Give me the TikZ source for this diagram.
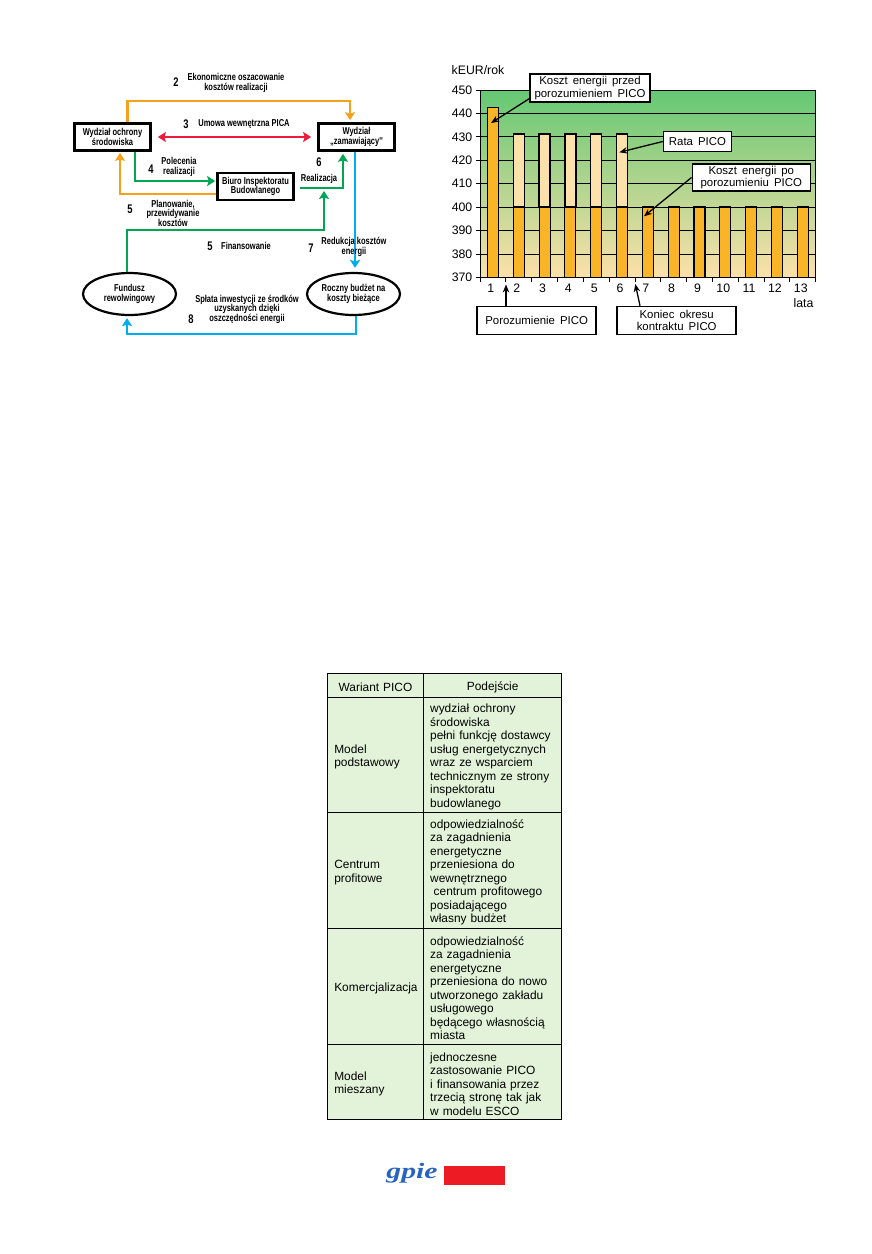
\documentclass[tikz,border=0pt]{standalone}
\usepackage{fontspec}
\setmainfont{Liberation Sans}
\newfontfamily\condfont[FakeStretch=0.75]{Liberation Sans}
\newfontfamily\logofont[FakeStretch=1.35]{Liberation Serif}
\usetikzlibrary{shapes.geometric, positioning, arrows.meta, calc}

\definecolor{flowOrange}{RGB}{247,160,30}
\definecolor{flowRed}{RGB}{237,28,60}
\definecolor{flowGreen}{RGB}{0,166,81}
\definecolor{flowBlue}{RGB}{0,174,239}
\definecolor{barOrange}{RGB}{250,180,40}
\definecolor{barLight}{RGB}{253,225,170}
\definecolor{cellGreen}{RGB}{227,243,217}
\definecolor{plotTop}{RGB}{100,200,115}
\definecolor{plotMid}{RGB}{176,214,135}
\definecolor{logoBlue}{RGB}{40,100,190}
\definecolor{logoRed}{RGB}{237,28,36}

\tikzset{
  flow/.style={line width=2.1pt, -{Stealth[length=8pt,width=10pt,inset=1.5pt]}},
  dept/.style={draw, line width=2.7pt, minimum width=76pt, minimum height=27pt, inner sep=1pt, align=center, font=\condfont\bfseries\fontsize{10}{9.5}\selectfont},
  fund/.style={draw, ellipse, line width=2.2pt, minimum width=93pt, minimum height=42pt, inner sep=0pt, align=center, font=\condfont\bfseries\fontsize{10}{9.5}\selectfont},
  lab/.style={inner sep=0pt, align=center, font=\condfont\bfseries\fontsize{10}{9.5}\selectfont},
  num/.style={inner sep=0pt, font=\condfont\bfseries\fontsize{12.5}{12.5}\selectfont},
  callout/.style={draw, fill=white, line width=1.6pt, inner sep=0pt, align=center, font=\fontsize{11.4}{12.5}\selectfont},
  pointer/.style={line width=1.3pt, -{Stealth[length=8pt,width=6.5pt]}},
  axislab/.style={inner sep=0pt, font=\fontsize{12.3}{12.3}\selectfont},
  cell/.style={draw, fill=cellGreen, line width=0.8pt, outer sep=0pt, inner ysep=0pt, inner xsep=7pt, align=left, font=\fontsize{11.9}{13.5}\selectfont, execute at begin node={\rule{0pt}{12.6pt}}},
  colA/.style={cell, text width=82.4pt},
  colB/.style={cell, inner xsep=6.5pt, text width=125pt}
}

\begin{document}
\begin{tikzpicture}[x=1pt, y=-1pt, node distance=0pt]
  \useasboundingbox (0,0) rectangle (872,1254);

  % flow diagram
  \node[dept] (ochrony) at (112.5,137) {Wydział ochrony\\środowiska};
  \node[dept] (zamaw) at (356.5,137) {Wydział\\„zamawiający''};
  \node[dept] (biuro) at (255.5,186.5) {Biuro Inspektoratu\\Budowlanego};
  \node[fund] (fundusz) at (129.5,294) {Fundusz\\rewolwingowy};
  \node[fund] (roczny) at (353.5,294) {Roczny budżet na\\koszty bieżące};
  \coordinate (realstart) at (300,188);
  \coordinate (realtip) at (324,191);

  \draw[flow, flowOrange] ([xshift=15pt]ochrony.north) -- ++(0,-21) -| ([xshift=-6.5pt,yshift=2pt]zamaw.north);
  \draw[flow, flowRed, {Stealth[length=8pt,width=10pt,inset=1.5pt]}-{Stealth[length=8pt,width=10pt,inset=1.5pt]}, shorten <=6pt, shorten >=6pt] (ochrony.east) -- (zamaw.west);
  \draw[flow, flowGreen] ([xshift=22.5pt]ochrony.south) |- ([yshift=5.5pt,xshift=-1pt]biuro.west);
  \draw[flow, flowOrange] ([yshift=-7.5pt]biuro.west) -| ([xshift=7.5pt,yshift=-1pt]ochrony.south);
  \draw[flow, flowGreen] (realstart) -| ([xshift=-13.5pt,yshift=-2pt]zamaw.south);
  \draw[flow, flowGreen] ([xshift=-2.5pt]fundusz.north) -- ++(0,-42) -| (realtip);
  \draw[flow, flowBlue] ([xshift=-1.5pt]zamaw.south) -- ([xshift=1.5pt,yshift=4pt]roczny.north);
  \draw[flow, flowBlue] ([xshift=2.5pt]roczny.south) -- ++(0,18) -| ([xshift=-2.5pt,yshift=-2pt]fundusz.south);

  \node[num] (n2) at (176,82) {2};
  \node[lab] (l2) at (236,83) {Ekonomiczne oszacowanie\\kosztów realizacji};
  \node[num] (n3) at (186,124) {3};
  \node[lab] (l3) at (244,124) {Umowa wewnętrzna PICA};
  \node[num] (n4) at (151,169) {4};
  \node[lab] (l4) at (179,167) {Polecenia\\realizacji};
  \node[num] (n6) at (319,162) {6};
  \node[lab] (l6) at (319,179) {Realizacja};
  \node[num] (n5a) at (130,209) {5};
  \node[lab] (l5a) at (173,213) {Planowanie,\\przewidywanie\\kosztów};
  \node[num] (n5b) at (210,246) {5};
  \node[lab] (l5b) at (246,246) {Finansowanie};
  \node[num] (n7) at (311,248) {7};
  \node[lab] (l7) at (354,247) {Redukcja kosztów\\energii};
  \node[num] (n8) at (191,319) {8};
  \node[lab] (l8) at (247,309) {Spłata inwestycji ze środków\\uzyskanych dzięki\\oszczędności energii};

  % chart
  \shade[top color=plotTop, middle color=plotMid, bottom color=barLight] (480,90) rectangle (815.7,277.3);
  \foreach \v in {370,380,...,450} {
    \pgfmathsetmacro{\ty}{277.3-(\v-370)*2.342}
    \draw[line width=0.7pt] (476,\ty) -- (815.7,\ty);
    \node[axislab, anchor=east] (tick\v) at (472.5,\ty) {\v};
  }
  \draw[line width=0.7pt] (480,90) -- (480,277.3);
  \draw[line width=0.7pt] (815.7,90) -- (815.7,277.3);
  \foreach \n in {0,...,13} {
    \pgfmathsetmacro{\tx}{480+\n*25.82}
    \draw[line width=0.7pt] (\tx,277.3) -- (\tx,281.5);
  }
  \foreach \n/\t in {1/442.6} {
    \pgfmathsetmacro{\bx}{480+(\n-0.5)*25.82}
    \pgfmathsetmacro{\by}{277.3-(\t-370)*2.342}
    \draw[fill=barOrange, line width=0.7pt] ({\bx-5.5},277.3) rectangle ({\bx+5.5},\by);
  }
  \foreach \n in {2,...,6} {
    \pgfmathsetmacro{\bx}{480+(\n-0.5)*25.82}
    \draw[fill=barLight, line width=1.3pt] ({\bx-5.5},207) rectangle ({\bx+5.5},134);
  }
  \foreach \n in {2,...,13} {
    \pgfmathsetmacro{\bx}{480+(\n-0.5)*25.82}
    \draw[fill=barOrange, line width=1.1pt] ({\bx-5.5},277.3) rectangle ({\bx+5.5},207);
  }
  \foreach \n in {1,...,13} {
    \pgfmathsetmacro{\lx}{478+(\n-0.5)*25.82}
    \node[axislab] (cat\n) at (\lx,288.5) {\n};
  }
  \node[axislab, anchor=west] (unit) at (451.5,70) {kEUR/rok};
  \node[axislab] (lata) at (803.5,303) {lata};

  \node[callout, minimum width=120pt, minimum height=28pt] (przed) at (590,88) {Koszt\, energii\, przed\\porozumieniem\, PICO};
  \node[callout, minimum width=68pt, minimum height=20pt] (rata) at (697.5,141.5) {Rata\, PICO};
  \node[callout, minimum width=118pt, minimum height=27pt] (po) at (751.3,177.5) {Koszt\, energii\, po\\porozumieniu\, PICO};
  \node[callout, minimum width=119pt, minimum height=28pt] (umowa) at (536.7,320.5) {Porozumienie\, PICO};
  \node[callout, minimum width=119pt, minimum height=28pt] (koniec) at (676.7,320.5) {Koniec\, okresu\\kontraktu\, PICO};
  \coordinate (bar1) at (491,123);
  \coordinate (bar6) at (619.3,152.3);
  \coordinate (bar7) at (644,216.3);
  \coordinate (gap1) at (506,284.5);
  \coordinate (gap6) at (635.3,284);

  \draw[pointer] (przed.190) -- (bar1);
  \draw[pointer] (rata.west) -- (bar6);
  \draw[pointer] (po.west) -- (bar7);
  \draw[pointer] (umowa.north -| gap1) -- (gap1);
  \draw[pointer] ([xshift=-36.7pt]koniec.north) -- (gap6);

  % table
  \node[colA, minimum height=24pt, align=center] (head1) at (375.5,685.3) {Wariant PICO};
  \node[colB, minimum height=24pt, align=center, right=of head1] (head2) {Podejście};
  \node[colA, minimum height=115pt, below=of head1] (var1) {Model\\podstawowy};
  \node[colB, minimum height=115pt, right=of var1] (opis1) {wydział ochrony\\środowiska\\pełni funkcję dostawcy\\usług energetycznych\\wraz ze wsparciem\\technicznym ze strony\\inspektoratu\\budowlanego};
  \node[colA, minimum height=116pt, below=of var1] (var2) {Centrum\\profitowe};
  \node[colB, minimum height=116pt, right=of var2] (opis2) {odpowiedzialność\\za zagadnienia\\energetyczne\\przeniesiona do\\wewnętrznego\\\hspace*{3.5pt}centrum profitowego\\posiadającego\\własny budżet};
  \node[colA, minimum height=116pt, below=of var2] (var3) {Komercjalizacja};
  \node[colB, minimum height=116pt, right=of var3] (opis3) {odpowiedzialność\\za zagadnienia\\energetyczne\\przeniesiona do nowo\\utworzonego zakładu\\usługowego\\będącego własnością\\miasta};
  \node[colA, minimum height=75pt, below=of var3] (var4) {Model\\mieszany};
  \node[colB, minimum height=75pt, right=of var4] (opis4) {jednoczesne\\zastosowanie PICO\\i finansowania przez\\trzecią stronę tak jak\\w modelu ESCO};

  % logo
  \node[inner sep=0pt, text=logoBlue, font=\logofont\bfseries\itshape\fontsize{22}{22}\selectfont] (logo) at (412,1173.5) {gpie};
  \node[fill=logoRed, minimum width=61pt, minimum height=19.5pt, inner sep=0pt] (logored) at (474.5,1175.5) {};
\end{tikzpicture}
\end{document}
